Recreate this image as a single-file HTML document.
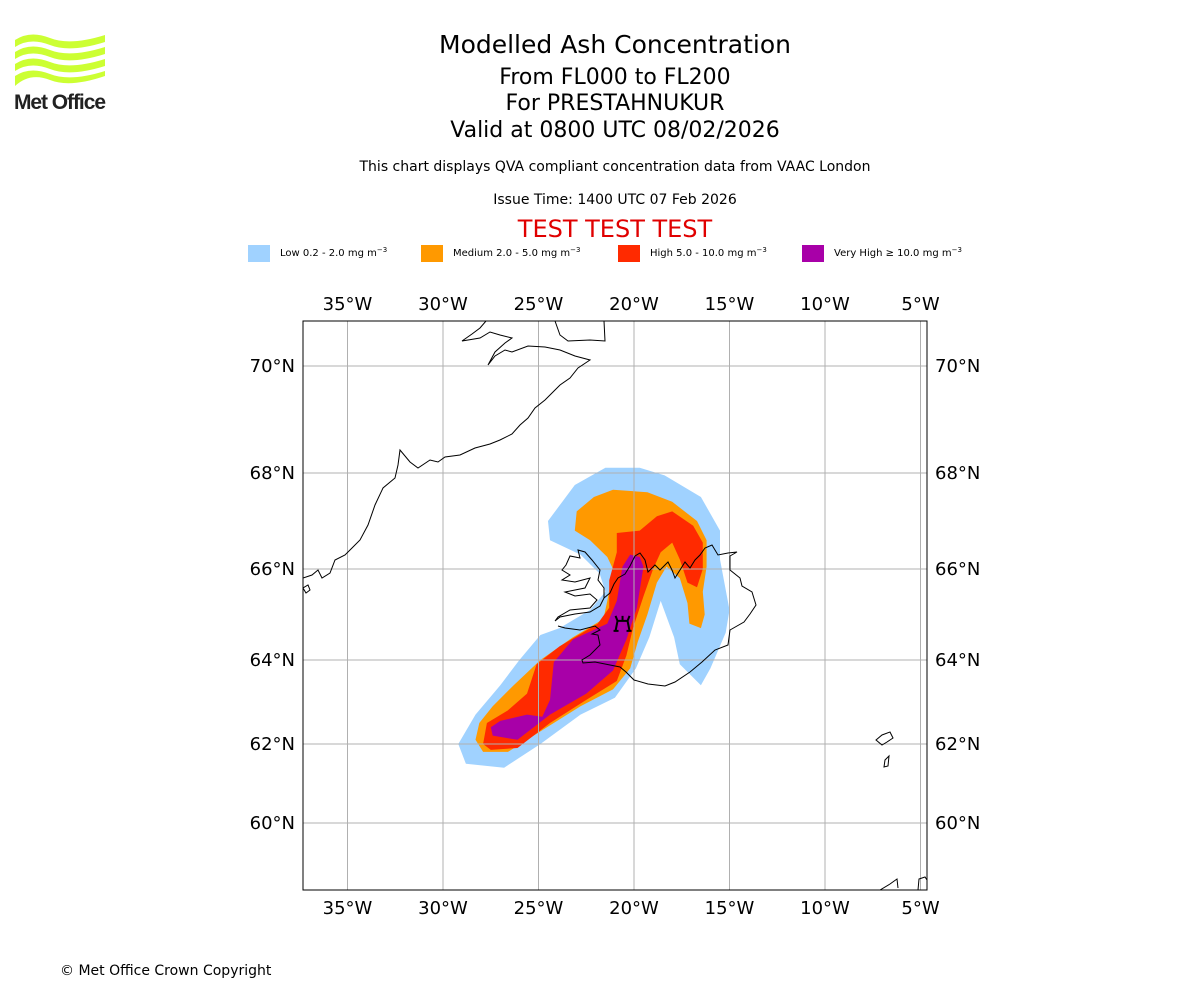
<!DOCTYPE html>
<html><head><meta charset="utf-8"><style>
body{margin:0;background:#fff;width:1200px;height:1000px;overflow:hidden;font-family:"DejaVu Sans","Liberation Sans",sans-serif}
svg{position:absolute;left:0;top:0}
</style></head><body>
<svg id="chart" width="1200" height="1000">
<g fill="#ccff33">
<path d="M15 40 Q30 30 50 38 Q70 46 105 35 L105 42 Q70 53 50 45 Q30 37 15 47Z"/>
<path d="M15 52 Q30 42 50 50 Q70 58 105 47 L105 54 Q70 65 50 57 Q30 49 15 59Z"/>
<path d="M15 64 Q30 54 50 62 Q70 70 105 59 L105 66 Q70 77 50 69 Q30 61 15 71Z"/>
<path d="M15 76 Q30 66 50 74 Q70 82 105 71 L105 76 Q70 88 50 80 Q30 72 15 86Z"/>
<text x="14" y="109" font-family="Liberation Sans, sans-serif" font-weight="bold" font-size="21" fill="#222" letter-spacing="-1" textLength="91">Met Office</text>
</g>
<g text-anchor="middle" fill="#000">
<text x="615" y="53" font-size="25">Modelled Ash Concentration</text>
<text x="615" y="84" font-size="22">From FL000 to FL200</text>
<text x="615" y="110" font-size="22">For PRESTAHNUKUR</text>
<text x="615" y="137" font-size="22">Valid at 0800 UTC 08/02/2026</text>
<text x="615" y="171" font-size="14">This chart displays QVA compliant concentration data from VAAC London</text>
<text x="615" y="204" font-size="14">Issue Time: 1400 UTC 07 Feb 2026</text>
<text x="615" y="237" font-size="24" fill="#e00000">TEST TEST TEST</text>
</g>
<g id="legend" font-size="10"></g>
<g id="map"></g>
<text x="60" y="975" font-size="14">© Met Office Crown Copyright</text>
</svg>
<script>
const lonTicks=[-35,-30,-25,-20,-15,-10,-5];
const latTicks=[70,68,66,64,62,60];
const latPix=[366,473,569,660,744,823];
const lonLabels=["35°W","30°W","25°W","20°W","15°W","10°W","5°W"];
const latLabels=["70°N","68°N","66°N","64°N","62°N","60°N"];
const levelNames=["Low 0.2 - 2.0 mg m","Medium 2.0 - 5.0 mg m","High 5.0 - 10.0 mg m","Very High \u2265 10.0 mg m"];
const levelColors=["#a0d2ff","#ff9900","#ff2a00","#a800a8"];
const lowPlume=[[-29.2,62.0],[-28.8,61.5],[-26.8,61.4],[-24.9,62.0],[-22.8,62.7],[-21.0,63.1],[-19.9,63.8],[-19.2,64.5],[-18.6,65.3],[-17.9,64.5],[-17.6,63.9],[-16.5,63.4],[-16.0,63.8],[-15.2,64.6],[-15.0,65.1],[-15.5,66.2],[-15.5,66.8],[-16.5,67.5],[-18.4,67.95],[-19.7,68.1],[-21.5,68.1],[-23.1,67.75],[-24.5,67.0],[-24.4,66.6],[-22.8,66.3],[-21.8,65.9],[-21.5,65.5],[-22.3,65.1],[-23.9,64.7],[-24.9,64.55],[-26.0,64.0],[-27.0,63.4],[-28.3,62.7]];
const mediumPlume=[[-28.3,62.1],[-27.9,61.8],[-26.6,61.8],[-24.9,62.3],[-22.8,62.9],[-21.1,63.3],[-20.2,63.8],[-19.8,64.4],[-19.3,65.0],[-18.8,65.7],[-18.3,66.05],[-17.6,65.8],[-17.2,65.25],[-17.1,64.8],[-16.5,64.7],[-16.3,65.0],[-16.4,65.5],[-16.2,66.05],[-16.2,66.6],[-16.7,67.0],[-18.0,67.4],[-19.3,67.6],[-21.1,67.65],[-22.1,67.5],[-23.0,67.2],[-23.1,66.8],[-22.3,66.6],[-21.4,66.25],[-21.1,66.0],[-21.4,65.3],[-21.6,64.9],[-23.2,64.5],[-24.9,64.0],[-26.3,63.4],[-27.4,62.9],[-28.1,62.5]];
const highPlume=[[-27.9,62.0],[-27.5,61.85],[-26.1,61.9],[-24.4,62.5],[-22.5,63.05],[-20.9,63.5],[-20.4,64.1],[-20.05,64.7],[-19.5,65.4],[-19.0,66.0],[-18.6,66.35],[-18.0,66.55],[-17.6,66.2],[-17.2,65.7],[-16.7,65.6],[-16.4,66.0],[-16.4,66.55],[-16.9,66.9],[-18.0,67.2],[-18.8,67.1],[-19.7,66.8],[-20.9,66.75],[-20.9,66.35],[-21.3,65.75],[-21.3,65.15],[-21.9,64.8],[-23.9,64.3],[-25.1,63.9],[-25.6,63.2],[-26.6,62.8],[-27.7,62.5]];
const veryHighPlume=[[-27.5,62.4],[-27.4,62.2],[-26.1,62.1],[-24.4,62.7],[-22.5,63.2],[-21.1,63.75],[-20.4,64.45],[-19.85,65.15],[-19.5,66.05],[-19.7,66.25],[-20.2,66.3],[-20.6,66.05],[-20.9,65.3],[-21.4,64.8],[-23.2,64.45],[-24.2,63.95],[-24.4,63.05],[-24.8,62.65],[-25.6,62.7],[-27.0,62.55]];
const volcano=[-20.6,64.75];

const NS="http://www.w3.org/2000/svg";
const X0=303,X1=927,Y0=321,Y1=890;
function xOf(lon){return 634+(lon+20)*19.1;}
function yOf(lat){
  for(let i=0;i<latTicks.length-1;i++){
    const a=latTicks[i],b=latTicks[i+1];
    if(lat<=a&&lat>=b||i===latTicks.length-2||(i===0&&lat>a))
      return latPix[i]+(a-lat)/(a-b)*(latPix[i+1]-latPix[i]);
  }
}
function mk(tag,attrs,parent){const e=document.createElementNS(NS,tag);for(const k in attrs)e.setAttribute(k,attrs[k]);parent.appendChild(e);return e;}
const map=document.getElementById('map');
const legend=document.getElementById('legend');

const legX=[248,421,618,802];
levelNames.forEach((n,i)=>{
  const r=mk('rect',{x:legX[i],y:245,width:22,height:17,fill:levelColors[i]},legend);
  
  
  const t=mk('text',{x:legX[i]+32,y:256,'font-size':10},legend);
  
  
  t.textContent=n;
  const s=mk('tspan',{dy:-4,'font-size':7},t);s.textContent='\u22123';
});

const defs=mk('defs',{},map);
const cp=mk('clipPath',{id:'clip'},defs);
mk('rect',{x:X0,y:Y0,width:X1-X0,height:Y1-Y0},cp);
const inner=mk('g',{'clip-path':'url(#clip)'},map);

[lowPlume,mediumPlume,highPlume,veryHighPlume].forEach((poly,i)=>{
  const p=mk('polygon',{points:poly.map(d=>xOf(d[0]).toFixed(1)+','+yOf(d[1]).toFixed(1)).join(' '),fill:levelColors[i]},inner);
  
  
});

lonTicks.forEach((lon,i)=>{
  const x=xOf(lon);
  const l=mk('line',{x1:x,x2:x,y1:Y0,y2:Y1,stroke:'#b0b0b0','stroke-width':1},inner);
  
  
  [[300,'top'],[904,'bottom']].forEach(([y,s])=>{
    const t=mk('text',{x:x,y:y+10,'text-anchor':'middle','font-size':18},map);
    
    
    t.textContent=lonLabels[i];
  });
});
latTicks.forEach((lat,i)=>{
  const y=yOf(lat);
  const l=mk('line',{x1:X0,x2:X1,y1:y,y2:y,stroke:'#b0b0b0','stroke-width':1},inner);
  
  
  const a=mk('text',{x:295,y:y+6,'text-anchor':'end','font-size':18},map);
  
  
  a.textContent=latLabels[i];
  const b=mk('text',{x:935,y:y+6,'text-anchor':'start','font-size':18},map);
  
  
  b.textContent=latLabels[i];
});

const coasts=[
 "M303,578 L312,575 L318,570 L322,578 L330,573 L335,560 L345,555 L352,548 L360,540 L368,525 L375,505 L383,488 L395,478 L398,465 L400,450 L410,462 L418,468 L430,460 L438,462 L445,457 L460,455 L475,448 L490,444 L500,440 L512,434 L520,425 L528,418 L535,408 L545,400 L553,392 L560,385 L570,378 L578,368 L590,360 L575,356 L560,350 L545,347 L528,346 L512,352 L505,350 L495,356 L488,365 L495,352 L505,343 L512,338 L500,335 L490,332 L480,338 L462,341 L472,334 L480,328 L486,321",
 "M555,321 L560,335 L568,341 L590,340 L605,341 L604,321",
 "M303,588 L308,585 L310,590 L306,593Z",
 "M555,621 L560,617 L575,614 L590,612 L600,606 L604,598 L604,588 L598,580 L600,570 L592,560 L585,552 L578,550 L580,558 L570,556 L566,565 L562,570 L570,575 L562,580 L575,582 L590,578 L585,588 L575,590 L565,592 L575,596 L590,594 L597,600 L590,608 L570,610 L558,617Z",
 "M604,598 L610,593 L614,584 L618,578 L625,574 L630,566 L635,556 L640,553 L645,560 L648,572 L655,565 L660,570 L668,562 L672,570 L675,578 L680,570 L685,562 L690,568 L695,560 L700,555 L705,548 L712,545 L718,555 L728,553 L737,552 L730,556 L730,570 L740,578 L742,586 L752,592 L756,605 L750,614 L744,622 L730,630 L728,645 L715,650 L702,662 L690,672 L675,682 L665,686 L648,684 L634,680 L626,672 L620,667 L605,664 L595,662 L583,663 L582,660 L590,655 L600,645 L598,635 L592,634 L600,630 L595,626 L580,630 L565,628 L558,626",
 "M876,740 L882,735 L890,732 L893,738 L887,742 L882,745Z M885,760 L889,756 L888,766 L884,767Z",
 "M880,890 L890,884 L897,879 L898,888 M918,890 L919,879 L925,877 L927,880"
];
coasts.forEach((d,i)=>{
  const p=mk('path',{d:d,fill:'none',stroke:'#000','stroke-width':1},inner);
  
  
});

const vx=xOf(volcano[0]),vy=yOf(volcano[1]);
const vs=mk('path',{d:`M${vx-7},${vy-10} L${vx-5},${vy-5} L${vx+5},${vy-5} L${vx+7},${vy-10} M${vx},${vy-10} L${vx},${vy-5} M${vx-5},${vy-5} L${vx-7},${vy+5} M${vx+5},${vy-5} L${vx+7},${vy+5} M${vx-9},${vy+5} L${vx-4},${vy+5} M${vx+4},${vy+5} L${vx+9},${vy+5}`,fill:'none',stroke:'#000','stroke-width':2},inner);



const fr=mk('rect',{x:X0,y:Y0,width:X1-X0,height:Y1-Y0,fill:'none',stroke:'#000','stroke-width':1},map);


</script>
</body></html>
